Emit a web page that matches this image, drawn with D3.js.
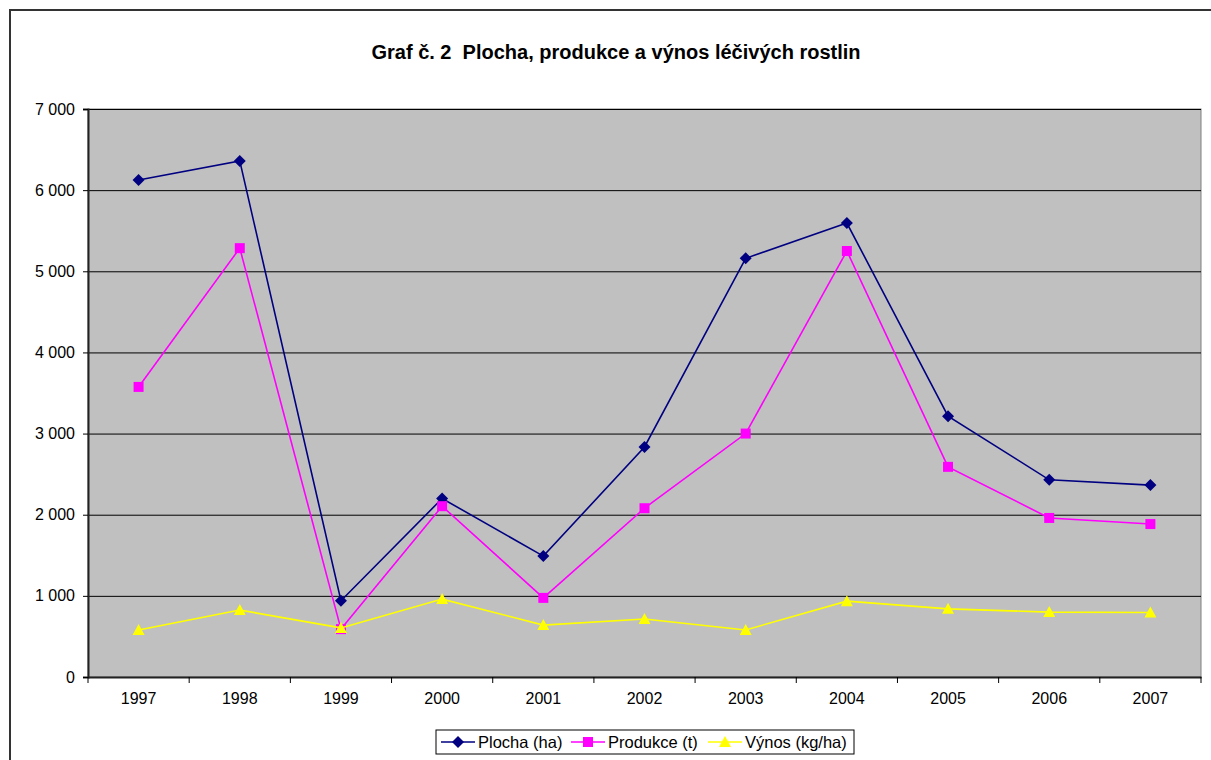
<!DOCTYPE html>
<html>
<head>
<meta charset="utf-8">
<script src="https://cdn.jsdelivr.net/npm/d3@7"></script>
<style>
  body { margin: 0; background: #fff; }
  svg { font-family: "Liberation Sans", Arial, sans-serif; }
</style>
</head>
<body>
<div id="chart"></div>
<script>
var years = ["1997", "1998", "1999", "2000", "2001", "2002", "2003", "2004", "2005", "2006", "2007"];
var plocha = [6125, 6360, 940, 2200, 1490, 2835, 5160, 5595, 3215, 2430, 2365];
var produkce = [3575, 5285, 590, 2105, 975, 2080, 3000, 5250, 2590, 1960, 1885];
var vynos = [580, 825, 605, 960, 640, 715, 580, 935, 840, 800, 795];
var yTicks = [0, 1000, 2000, 3000, 4000, 5000, 6000, 7000];

var series = [
  { name: "Plocha (ha)", values: plocha, color: "#000080", shape: "diamond" },
  { name: "Produkce (t)", values: produkce, color: "#FF00FF", shape: "square" },
  { name: "Výnos (kg/ha)", values: vynos, color: "#FFFF00", shape: "triangle" }
];

var width = 1211, height = 760,
    plot = { left: 88, top: 109, right: 1201, bottom: 677 };

var svg = d3.select("#chart").append("svg")
    .attr("width", width)
    .attr("height", height);

// outer chart frame (continues past the picture edge)
svg.append("rect")
   .attr("x", 10).attr("y", 10)
   .attr("width", 1240).attr("height", 800)
   .attr("fill", "#fff")
   .attr("stroke", "#333").attr("stroke-width", 2);

svg.append("text")
   .attr("x", 616).attr("y", 59)
   .attr("text-anchor", "middle")
   .style("font-size", "20px").style("font-weight", "bold")
   .style("white-space", "pre")
   .text("Graf č. 2  Plocha, produkce a výnos léčivých rostlin");

var x = d3.scaleBand().domain(years).range([plot.left, plot.right]);
var y = d3.scaleLinear().domain([0, 7000]).range([plot.bottom, plot.top]);

svg.append("rect")
   .attr("x", plot.left).attr("y", plot.top)
   .attr("width", plot.right - plot.left).attr("height", plot.bottom - plot.top)
   .attr("fill", "#C0C0C0")
   .attr("stroke", "#808080").attr("stroke-width", 1);

svg.append("g").selectAll("line").data(yTicks.slice(1)).enter()
   .append("line")
   .attr("x1", plot.left).attr("x2", plot.right)
   .attr("y1", function (d) { return y(d) + 0.5; })
   .attr("y2", function (d) { return y(d) + 0.5; })
   .attr("stroke", "#000").attr("stroke-width", 1);

var fmt = function (d) { return d3.format(",")(d).replace(/,/g, " "); };

var yAxis = svg.append("g")
   .attr("transform", "translate(" + plot.left + ",0)")
   .call(d3.axisLeft(y).tickValues(yTicks).tickFormat(fmt).tickSize(5).tickPadding(8));

var xAxis = svg.append("g")
   .attr("transform", "translate(0," + plot.bottom + ")")
   .call(d3.axisBottom(x).tickSize(0).tickPadding(16));

xAxis.selectAll(".tick").append("line")
   .attr("x1", function () { return -x.bandwidth() / 2; })
   .attr("x2", function () { return -x.bandwidth() / 2; })
   .attr("y1", 0).attr("y2", 6)
   .attr("stroke", "#000");
xAxis.append("line")
   .attr("x1", plot.right).attr("x2", plot.right)
   .attr("y1", 0).attr("y2", 6)
   .attr("stroke", "#000");

[yAxis, xAxis].forEach(function (a) {
  a.select(".domain").attr("stroke", "#222").attr("stroke-width", 2);
  a.selectAll("text").attr("fill", "#000").style("font-size", "16px")
   .style("font-family", "'Liberation Sans', Arial, sans-serif");
});

function markerPath(shape) {
  if (shape === "diamond") return "M0,-6L6,0L0,6L-6,0Z";
  if (shape === "square") return "M-5,-5H5V5H-5Z";
  return "M0,-6L6,5L-6,5Z";
}

var line = d3.line()
   .x(function (d, i) { return x(years[i]) + x.bandwidth() / 2; })
   .y(function (d) { return y(d); });

series.forEach(function (s) {
  var g = svg.append("g");
  g.append("path")
   .attr("d", line(s.values))
   .attr("fill", "none")
   .attr("stroke", s.color).attr("stroke-width", 1.6);
  g.selectAll("path.m").data(s.values).enter()
   .append("path")
   .attr("class", "m")
   .attr("d", markerPath(s.shape))
   .attr("transform", function (d, i) {
     return "translate(" + (x(years[i]) + x.bandwidth() / 2) + "," + y(d) + ")";
   })
   .attr("fill", s.color);
});

// legend
var legend = svg.append("g");
legend.append("rect")
   .attr("x", 436).attr("y", 730)
   .attr("width", 418).attr("height", 24)
   .attr("fill", "#fff").attr("stroke", "#000");

var legX = [441, 571, 708];
series.forEach(function (s, i) {
  var g = legend.append("g").attr("transform", "translate(" + legX[i] + ",742)");
  g.append("line").attr("x1", 0).attr("x2", 34)
   .attr("stroke", s.color).attr("stroke-width", 1.6);
  g.append("path").attr("d", markerPath(s.shape))
   .attr("transform", "translate(17,0)").attr("fill", s.color);
  g.append("text").attr("x", 37).attr("y", 6)
   .style("font-size", "16.5px").text(s.name);
});
</script>
</body>
</html>
